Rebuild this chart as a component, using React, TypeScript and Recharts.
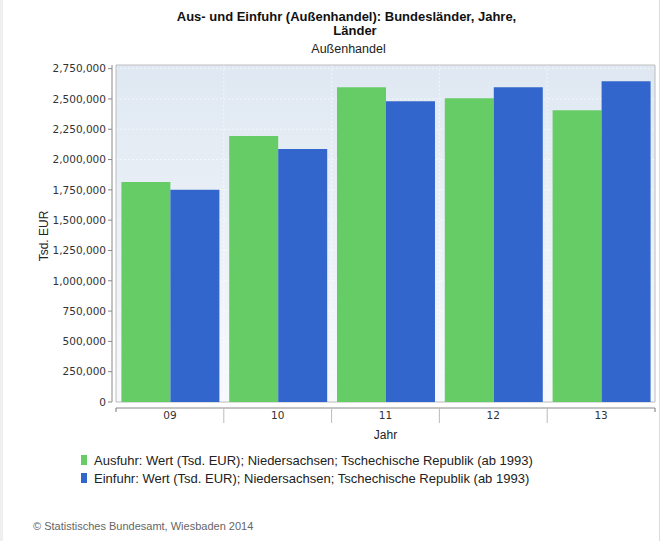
import React from 'react';
import {
  BarChart,
  Bar,
  XAxis,
  YAxis,
  CartesianGrid,
  ReferenceArea,
} from 'recharts';

// Jahre (Achsenbeschriftung)
const years = ['09', '10', '11', '12', '13'];
// Werte in Tsd. EUR
const ausfuhr = [1814000, 2195000, 2597000, 2505000, 2406000];
const einfuhr = [1751000, 2088000, 2481000, 2597000, 2646000];
const yTicks = [0, 250000, 500000, 750000, 1000000, 1250000, 1500000, 1750000, 2000000, 2250000, 2500000, 2750000];

const seriesNames = [
  'Ausfuhr: Wert (Tsd. EUR); Niedersachsen; Tschechische Republik (ab 1993)',
  'Einfuhr: Wert (Tsd. EUR); Niedersachsen; Tschechische Republik (ab 1993)',
];

const W = 662;
const H = 541;
const X_AXIS_H = 30;
const margin = { top: 65, right: 7, bottom: 139 - X_AXIS_H, left: 0 };
const Y_AXIS_W = 116;
const PLOT_W = W - margin.left - margin.right - Y_AXIS_W;

const GREEN = '#66cc66';
const BLUE = '#3366cc';
const colors = [GREEN, BLUE];
const tickFont = { fontFamily: '"DejaVu Sans", sans-serif', fontSize: 10.5, fill: '#333' };
const textFont = '"Liberation Sans", Arial, sans-serif';

const chartData = years.map((year, i) => ({
  year,
  ausfuhr: ausfuhr[i],
  einfuhr: einfuhr[i],
}));

const XTick = (props: any) => {
  const { x, y, payload, index } = props;
  const half = PLOT_W / years.length / 2;
  const top = y - 4;
  return (
    <g>
      {index === 0 ? (
        <line x1={x - half} x2={x - half} y1={top} y2={top + 4} stroke="#777" />
      ) : (
        <line x1={x - half} x2={x - half} y1={top} y2={top + 15} stroke="#bbb" />
      )}
      {index === years.length - 1 && (
        <line x1={x + half} x2={x + half} y1={top} y2={top + 4} stroke="#777" />
      )}
      <text x={x} y={y} dy="0.71em" textAnchor="middle" {...tickFont}>
        {payload.value}
      </text>
    </g>
  );
};

export default function App() {
  return (
    <div
      style={{
        position: 'absolute',
        left: 0,
        top: 0,
        width: W,
        height: H,
        background: '#fff',
        fontFamily: textFont,
        overflow: 'hidden',
      }}
    >
      <div style={{ position: 'absolute', left: 0, top: 0, width: 3, height: H, background: '#efefef' }} />
      <div style={{ position: 'absolute', left: 659, top: 0, width: 1, height: H, background: '#dcdcdc' }} />

      <div style={{ position: 'absolute', left: 0, width: 693, top: 10, lineHeight: '13px', textAlign: 'center', fontWeight: 'bold', fontSize: 13, color: '#111' }}>
        Aus- und Einfuhr (Außenhandel): Bundesländer, Jahre,
      </div>
      <div style={{ position: 'absolute', left: 0, width: 710, top: 24, lineHeight: '13px', textAlign: 'center', fontWeight: 'bold', fontSize: 13, color: '#111' }}>
        Länder
      </div>
      <div style={{ position: 'absolute', left: 0, width: 697, top: 42, lineHeight: '14px', textAlign: 'center', fontSize: 12.5, color: '#222' }}>
        Außenhandel
      </div>

      <div
        style={{
          position: 'absolute',
          left: 44,
          top: 236,
          transform: 'translate(-50%, -50%) rotate(-90deg)',
          fontSize: 12,
          color: '#222',
          whiteSpace: 'nowrap',
        }}
      >
        Tsd. EUR
      </div>
      <div style={{ position: 'absolute', left: 0, width: 771, top: 428, textAlign: 'center', fontSize: 12, color: '#222' }}>
        Jahr
      </div>

      <BarChart
        width={W}
        height={H}
        data={chartData}
        margin={margin}
        barCategoryGap="5%"
        barGap={0}
        style={{ position: 'absolute', left: 0, top: 0 }}
      >
        <defs>
          <linearGradient id="plotBg" x1="0" y1="0" x2="0" y2="1">
            <stop offset="0%" stopColor="#dfe8f2" />
            <stop offset="100%" stopColor="#f7f9fc" />
          </linearGradient>
        </defs>
        <CartesianGrid
          fill="url(#plotBg)"
          stroke="#ffffff"
          strokeOpacity={0.6}
          strokeDasharray="2 2"
          verticalCoordinatesGenerator={({ offset }: any) =>
            years.slice(1).map((_, i) => offset.left + ((i + 1) * offset.width) / years.length)
          }
        />
        <XAxis
          dataKey="year"
          height={X_AXIS_H}
          interval={0}
          tickLine={false}
          tickSize={6}
          tickMargin={4}
          axisLine={{ stroke: '#888', transform: 'translate(0,6)' }}
          tick={<XTick />}
        />
        <YAxis
          width={Y_AXIS_W}
          domain={[0, 2780000]}
          ticks={yTicks}
          interval={0}
          tickSize={4}
          tickMargin={6}
          tick={tickFont}
          tickFormatter={(v: number) => v.toLocaleString('en-US')}
          axisLine={{ stroke: '#888', transform: 'translate(-4,0)' }}
          tickLine={{ stroke: '#888', transform: 'translate(-4,0)' }}
          allowDataOverflow
        />
        <ReferenceArea y1={0} y2={2780000} fill="none" stroke="#bcbcbc" ifOverflow="visible" />
        <Bar dataKey="ausfuhr" name={seriesNames[0]} fill={GREEN} isAnimationActive={false} />
        <Bar dataKey="einfuhr" name={seriesNames[1]} fill={BLUE} isAnimationActive={false} />
      </BarChart>

      <div style={{ position: 'absolute', left: 81, top: 451, fontSize: 13, color: '#222' }}>
        {seriesNames.map((name, i) => (
          <div key={name} style={{ display: 'flex', alignItems: 'center', height: 18 }}>
            <span style={{ display: 'inline-block', width: 6, height: 10, background: colors[i], marginRight: 7 }} />
            <span>{name}</span>
          </div>
        ))}
      </div>

      <div style={{ position: 'absolute', left: 33, top: 520, fontSize: 11, color: '#666' }}>
        © Statistisches Bundesamt, Wiesbaden 2014
      </div>
    </div>
  );
}
